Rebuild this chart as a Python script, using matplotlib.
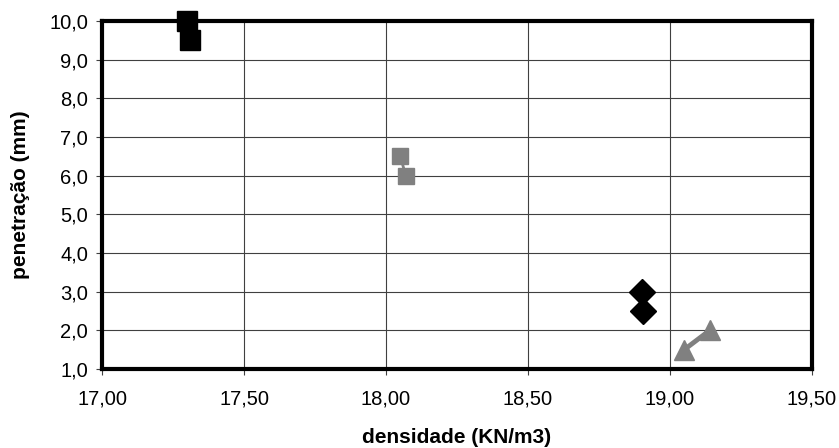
import matplotlib.pyplot as plt
from matplotlib.ticker import FuncFormatter

plt.rcParams['font.family'] = ['Liberation Sans', 'DejaVu Sans']

# series
dens_a = [17.30, 17.31]
pen_a = [10.0, 9.5]
dens_b = [18.05, 18.07]
pen_b = [6.5, 6.0]
dens_c = [18.90, 18.905]
pen_c = [3.0, 2.5]
dens_d = [19.05, 19.14]
pen_d = [1.5, 2.0]

x_ticks = [17.0, 17.5, 18.0, 18.5, 19.0, 19.5]
y_ticks = [1, 2, 3, 4, 5, 6, 7, 8, 9, 10]

fig = plt.figure(figsize=(8.39, 4.48), dpi=100)
ax = fig.add_axes([0.1216, 0.1763, 0.8462, 0.7767])

ax.plot(dens_a, pen_a, color='black', lw=2, marker='s', ms=14, clip_on=False, zorder=5)
ax.plot(dens_b, pen_b, color='#808080', lw=2, marker='s', ms=11, zorder=5)
ax.plot(dens_c, pen_c, color='black', lw=2, marker='D', ms=13, zorder=5)
ax.plot(dens_d, pen_d, color='#808080', lw=3.5, marker='^', ms=15, clip_on=False, zorder=5)

ax.set_xlim(17.0, 19.5)
ax.set_ylim(1.0, 10.0)
ax.set_xticks(x_ticks)
ax.set_yticks(y_ticks)
ax.xaxis.set_major_formatter(FuncFormatter(lambda v, p: f'{v:.2f}'.replace('.', ',')))
ax.yaxis.set_major_formatter(FuncFormatter(lambda v, p: f'{v:.1f}'.replace('.', ',')))
ax.tick_params(labelsize=14.5, length=4, width=0.8, color='#404040')
ax.tick_params(axis='x', pad=11)
ax.tick_params(axis='y', pad=6)

ax.grid(True, color='#404040', lw=0.8)
ax.set_axisbelow(True)
for s in ax.spines.values():
    s.set_linewidth(3)
    s.set_color('black')

ax.set_xlabel('densidade (KN/m3)', fontsize=15, fontweight='bold', labelpad=14)
ax.set_ylabel('penetração (mm)', fontsize=15, fontweight='bold', labelpad=14)

fig.savefig('out.png', dpi=100)
